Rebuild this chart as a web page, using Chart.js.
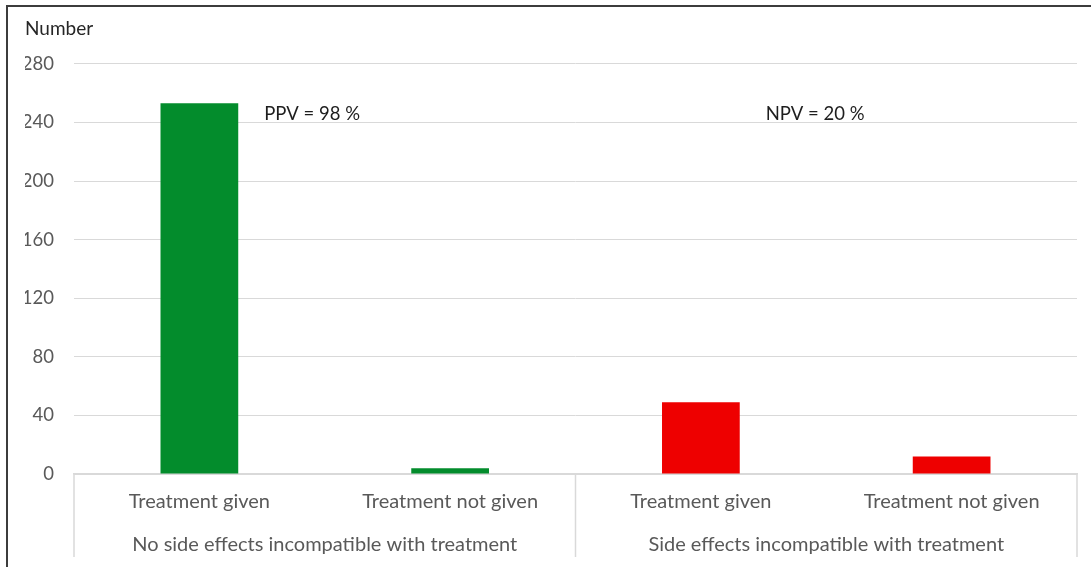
<!DOCTYPE html>
<html>
<head>
<meta charset="utf-8">
<script src="https://cdn.jsdelivr.net/npm/chart.js@4"></script>
<style>
  html, body { margin: 0; padding: 0; background: #ffffff; }
  #frame { position: absolute; left: 6px; top: 5px; width: 1083px; height: 560px;
           border-top: 2px solid #3c3c3c; border-left: 2px solid #3c3c3c; }
  #wrap { position: absolute; left: 0; top: 0; width: 1083px; height: 560px; }
</style>
</head>
<body>
<div id="frame"><div id="wrap"><canvas id="c"></canvas></div></div>
<script>
const categories = ['Treatment given', 'Treatment not given', 'Treatment given', 'Treatment not given'];
const groups = ['No side effects incompatible with treatment', 'Side effects incompatible with treatment'];
const counts = [253, 4, 49, 12];
const barColors = ['#038C2C', '#038C2C', '#EE0000', '#EE0000'];
const yTicks = [0, 40, 80, 120, 160, 200, 240, 280];
const annotations = ['PPV = 98 %', '', 'NPV = 20 %', ''];
const annotationLevel = 246;

const FONT = 'Lato, "Open Sans", sans-serif';
const GRID = '#d9d9d9';

const extras = {
  id: 'extras',
  afterDraw(chart) {
    const ctx = chart.ctx;
    const x = chart.scales.x, y = chart.scales.y, x2 = chart.scales.x2;
    const area = chart.chartArea;
    const mid = (x.getPixelForValue(1) + x.getPixelForValue(2)) / 2;
    ctx.save();
    ctx.strokeStyle = GRID;
    ctx.lineWidth = 1.5;
    [area.left, mid, area.right].forEach(px => {
      ctx.beginPath();
      ctx.moveTo(px, area.bottom);
      ctx.lineTo(px, x2.bottom - 3);
      ctx.stroke();
    });
    const meta = chart.getDatasetMeta(0);
    ctx.fillStyle = '#1e1e1e';
    ctx.font = '18.5px ' + FONT;
    ctx.textAlign = 'left';
    ctx.textBaseline = 'middle';
    annotations.forEach((t, i) => {
      if (!t) return;
      const bar = meta.data[i];
      ctx.fillText(t, bar.x + bar.width / 2 + 26, y.getPixelForValue(annotationLevel));
    });
    ctx.restore();
  }
};

new Chart(document.getElementById('c'), {
  type: 'bar',
  data: {
    labels: categories,
    datasets: [{
      data: counts,
      backgroundColor: barColors,
      borderWidth: 0,
      categoryPercentage: 1.0,
      barPercentage: 0.31
    }]
  },
  options: {
    responsive: true,
    maintainAspectRatio: false,
    animation: false,
    layout: { padding: { left: 17, right: 14, top: 0, bottom: 7 } },
    plugins: {
      legend: { display: false },
      tooltip: { enabled: false },
      title: {
        display: true,
        text: 'Number',
        align: 'start',
        color: '#262626',
        font: { family: FONT, size: 19, weight: 'normal' },
        padding: { top: 10, bottom: 24 }
      }
    },
    scales: {
      y: {
        min: 0, max: 280,
        afterBuildTicks: s => { s.ticks = yTicks.map(v => ({ value: v })); },
        afterFit: s => { s.width = 49; },
        ticks: { color: '#595959', font: { family: FONT, size: 18.5 }, padding: 20 },
        grid: { color: GRID, lineWidth: 1, drawTicks: false },
        border: { display: false }
      },
      x: {
        position: 'bottom',
        grid: { display: false, drawTicks: false },
        border: { display: true, color: GRID, width: 1.5 },
        ticks: { color: '#595959', font: { family: FONT, size: 20 }, padding: 16, maxRotation: 0, autoSkip: false }
      },
      x2: {
        type: 'category',
        position: 'bottom',
        labels: groups,
        offset: true,
        grid: { display: false, drawTicks: false },
        border: { display: false },
        ticks: { color: '#595959', font: { family: FONT, size: 20 }, padding: 3, maxRotation: 0, autoSkip: false }
      }
    }
  },
  plugins: [extras]
});
</script>
</body>
</html>
